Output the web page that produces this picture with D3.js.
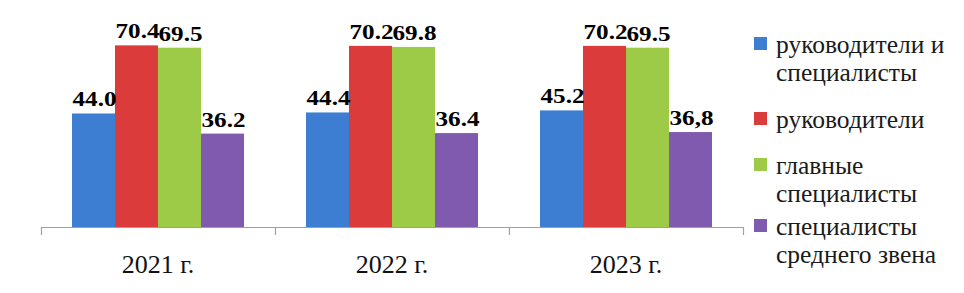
<!DOCTYPE html>
<html>
<head>
<meta charset="utf-8">
<script src="https://cdn.jsdelivr.net/npm/d3@7"></script>
</head>
<body style="margin:0">
<svg id="chart" width="964" height="293"></svg>
<script>
// ---- data ----
const categories = ["2021 г.", "2022 г.", "2023 г."];
const seriesNames = ["руководители и специалисты", "руководители", "главные специалисты", "специалисты среднего звена"];
const legendLines = [["руководители и", "специалисты"], ["руководители"], ["главные", "специалисты"], ["специалисты", "среднего звена"]];
const leadersAndSpecialists = [44.0, 44.4, 45.2];
const leaders = [70.4, 70.2, 70.2];
const chiefSpecialists = [69.5, 69.8, 69.5];
const midLevelSpecialists = [36.2, 36.4, 36.8];
const leadersAndSpecialistsLabels = ["44.0", "44.4", "45.2"];
const leadersLabels = ["70.4", "70.2", "70.2"];
const chiefSpecialistsLabels = ["69.5", "69.8", "69.5"];
const midLevelSpecialistsLabels = ["36.2", "36.4", "36,8"];

const seriesValues = [leadersAndSpecialists, leaders, chiefSpecialists, midLevelSpecialists];
const seriesLabels = [leadersAndSpecialistsLabels, leadersLabels, chiefSpecialistsLabels, midLevelSpecialistsLabels];
const colors = ["#3d7dd2", "#dc3b3c", "#9dcb48", "#7f5aae"];
const SERIF = '"Liberation Serif"';

// ---- layout ----
const svg = d3.select("#chart");
const baseY = 227;
const x0 = d3.scaleBand().domain(categories).range([41, 743]).paddingInner(0.265).paddingOuter(0.1325);
const x1 = d3.scaleBand().domain(d3.range(seriesNames.length)).range([0, x0.bandwidth()]);
const y = d3.scaleLinear().domain([0, 80]).range([baseY, baseY - 80 * 2.58]);

const data = [];
categories.forEach((c, ci) => {
  seriesValues.forEach((vals, si) => {
    data.push({ cat: c, si, v: vals[ci], label: seriesLabels[si][ci] });
  });
});

// bars
svg.append("g").selectAll("rect").data(data).join("rect")
  .attr("x", d => x0(d.cat) + x1(d.si))
  .attr("y", d => y(d.v))
  .attr("width", x1.bandwidth())
  .attr("height", d => y(0) - y(d.v))
  .attr("fill", d => colors[d.si]);

// axis
const axisScale = d3.scalePoint().domain(d3.range(categories.length + 1)).range([41, 743]);
const axG = svg.append("g");
axG.append("line").attr("x1", 41).attr("x2", 743).attr("y1", baseY + 0.5).attr("y2", baseY + 0.5)
  .attr("stroke", "#a0a0a0").attr("stroke-width", 1.2);
axG.selectAll("line.tick").data(axisScale.domain()).join("line").attr("class", "tick")
  .attr("x1", d => Math.round(axisScale(d)) + 0.5).attr("x2", d => Math.round(axisScale(d)) + 0.5)
  .attr("y1", baseY).attr("y2", baseY + 8)
  .attr("stroke", "#a0a0a0").attr("stroke-width", 1.2);

// category labels
svg.append("g").selectAll("text").data(categories).join("text")
  .attr("x", d => x0(d) + x0.bandwidth() / 2)
  .attr("y", 273)
  .attr("text-anchor", "middle")
  .attr("font-size", 26)
  .attr("fill", "#111")
  .style("font-family", SERIF)
  .text(d => d);

// value labels
svg.append("g").selectAll("text").data(data).join("text")
  .attr("transform", d => `translate(${x0(d.cat) + x1(d.si) + x1.bandwidth() / 2 + 1},${y(d.v) - 7}) scale(1.17,1)`)
  .attr("text-anchor", "middle")
  .attr("font-weight", "bold")
  .attr("font-size", 21.5)
  .attr("fill", "#000")
  .style("font-family", SERIF)
  .text(d => d.label);

// legend
const legendBaselines = [53, 128, 174, 235];
const lg = svg.append("g");
legendLines.forEach((lines, i) => {
  const g = lg.append("g");
  g.append("rect").attr("x", 754).attr("y", legendBaselines[i] - 16).attr("width", 13).attr("height", 13)
    .attr("fill", colors[i]);
  lines.forEach((t, li) => {
    g.append("text")
      .attr("x", 776)
      .attr("y", legendBaselines[i] + li * 27.5)
      .attr("font-size", 25.5)
      .attr("fill", "#1a1a1a")
      .style("font-family", SERIF)
      .text(t);
  });
});
</script>
</body>
</html>
